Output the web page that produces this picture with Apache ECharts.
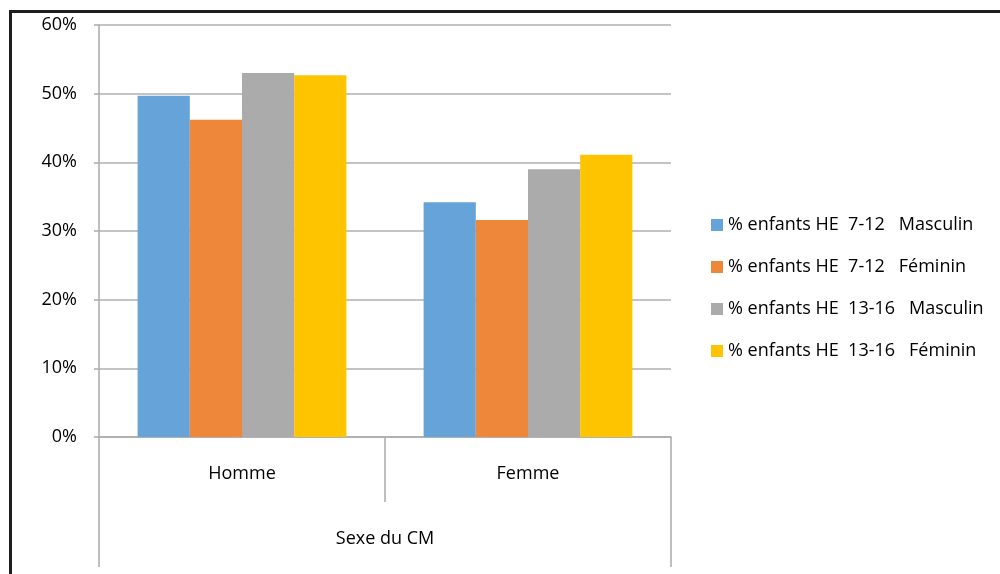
<!DOCTYPE html>
<html><head><meta charset="utf-8">
<script src="https://cdn.jsdelivr.net/npm/echarts@6/dist/echarts.min.js"></script>
<style>html,body{margin:0;padding:0;background:#fff}#c{width:1000px;height:574px}</style>
</head><body><div id="c"></div>
<script>
const categories = ['Homme', 'Femme'];
const outerCategory = ['Sexe du CM'];
const seriesNames = [
  '% enfants HE  7-12   Masculin',
  '% enfants HE  7-12   Féminin',
  '% enfants HE  13-16   Masculin',
  '% enfants HE  13-16   Féminin'
];
const he712Masculin = [49.7, 34.2];
const he712Feminin = [46.2, 31.6];
const he1316Masculin = [53.0, 39.0];
const he1316Feminin = [52.7, 41.1];
const colors = ['#66a3d8', '#ef873a', '#ababab', '#ffc400'];
const FONT = 'Open Sans';

const chart = echarts.init(document.getElementById('c'));
const values = [he712Masculin, he712Feminin, he1316Masculin, he1316Feminin];
chart.setOption({
  animation: false,
  textStyle: { fontFamily: FONT },
  graphic: [{
    type: 'rect', left: 8, top: 9, silent: true,
    shape: { width: 1100, height: 700 },
    style: { fill: 'none', stroke: '#1e1e1e', lineWidth: 3 }
  }],
  grid: { left: 99, right: 329, top: 25, bottom: 137 },
  legend: {
    orient: 'vertical', left: 711, top: 213, itemGap: 18, padding: 0,
    itemWidth: 12, itemHeight: 12, icon: 'rect',
    textStyle: { fontFamily: FONT, fontSize: 18, color: '#000', lineHeight: 24 },
    data: seriesNames
  },
  xAxis: [{
    type: 'category', data: categories, position: 'bottom',
    axisLine: { lineStyle: { color: '#aaaaaa', width: 1.5 } },
    axisTick: { show: true, interval: 0, length: 65, lineStyle: { color: '#aaaaaa', width: 1.5 } },
    axisLabel: { margin: 28, fontSize: 18, color: '#000', fontFamily: FONT }
  }, {
    type: 'category', data: outerCategory, position: 'bottom',
    axisLine: { show: false },
    axisTick: { show: true, interval: 0, length: 130, lineStyle: { color: '#aaaaaa', width: 1.5 } },
    axisLabel: { margin: 93, fontSize: 18, color: '#000', fontFamily: FONT }
  }],
  yAxis: {
    type: 'value', min: 0, max: 60, interval: 10,
    axisLine: { show: true, lineStyle: { color: '#aaaaaa', width: 1.5 } },
    axisTick: { show: true, length: 5, lineStyle: { color: '#aaaaaa', width: 1.5 } },
    splitLine: { lineStyle: { color: '#b0b0b0', width: 1.5 } },
    axisLabel: { formatter: '{value}%', margin: 22, fontSize: 18, color: '#000', fontFamily: FONT }
  },
  series: seriesNames.map((n, i) => ({
    name: n, type: 'bar', xAxisIndex: 0, data: values[i],
    itemStyle: { color: colors[i] },
    barGap: '0%', barCategoryGap: '27%'
  }))
});
</script></body></html>
